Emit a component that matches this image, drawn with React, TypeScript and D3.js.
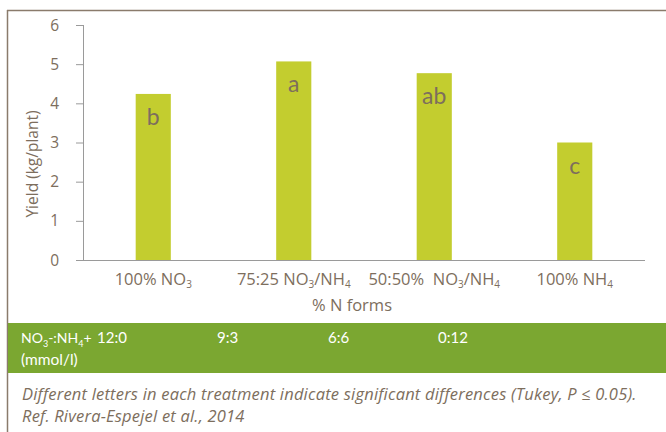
import React from "react";
import * as d3 from "d3";

const categories = ["100% NO3", "75:25 NO3/NH4", "50:50% NO3/NH4", "100% NH4"];
const yields = [4.24, 5.07, 4.77, 3.0];
const letters = ["b", "a", "ab", "c"];
const ratios = ["12:0", "9:3", "6:6", "0:12"];
const yTicks = [0, 1, 2, 3, 4, 5, 6];

const W = 666;
const H = 432;
const TXT = "#7d6e5d";
const BAR = "#c3cd2f";
const BAND = "#7ba731";
const FONT = "'Open Sans', Lato, sans-serif";
const FONT2 = "Lato, 'Open Sans', sans-serif";

function TickLabel({ i }: { i: number }) {
  const s = (t: string) => (
    <tspan dy={3} fontSize={10}>
      {t}
    </tspan>
  );
  if (i === 0) return <>100% NO{s("3")}</>;
  if (i === 1)
    return (
      <>
        75:25 NO{s("3")}
        <tspan dy={-3}>/NH</tspan>
        {s("4")}
      </>
    );
  if (i === 2)
    return (
      <>
        50:50%{"\u00a0\u00a0"}NO{s("3")}
        <tspan dy={-3}>/NH</tspan>
        {s("4")}
      </>
    );
  return <>100% NH{s("4")}</>;
}

export default function App() {
  const x = d3
    .scaleBand<string>()
    .domain(categories)
    .range([83, 645])
    .paddingInner(0.75)
    .paddingOuter(0.375);
  const y = d3.scaleLinear().domain([0, 6]).range([260, 25]);
  const ratioX = [97, 217, 328, 438];

  return (
    <svg
      width={W}
      height={H}
      style={{ position: "absolute", left: 0, top: 0, fontFamily: FONT }}
    >
      <rect x={0} y={0} width={W} height={H} fill="#fff" />
      {/* frame */}
      <line x1={7} x2={W} y1={10.5} y2={10.5} stroke="#8a7b6c" strokeWidth={1.5} />
      <line x1={7.5} x2={7.5} y1={10} y2={H} stroke="#8a7b6c" strokeWidth={1.5} />

      {/* bars */}
      {categories.map((c, i) => (
        <g key={c}>
          <rect
            x={x(c)!}
            y={y(yields[i])}
            width={x.bandwidth()}
            height={y(0) - y(yields[i])}
            fill={BAR}
          />
          <text
            x={x(c)! + x.bandwidth() / 2}
            y={y(yields[i]) + 31}
            textAnchor="middle"
            fontSize={23}
            fill={TXT}
            fontFamily={FONT2}
          >
            {letters[i]}
          </text>
        </g>
      ))}

      {/* y axis */}
      <line x1={83.5} x2={83.5} y1={y(6)} y2={y(0)} stroke="#9a9a9a" strokeWidth={1} />
      {yTicks.map((t) => (
        <g key={t}>
          <line x1={76} x2={83.5} y1={y(t) + 0.5} y2={y(t) + 0.5} stroke="#9a9a9a" />
          <text x={59} y={y(t) + 5.5} textAnchor="end" fontSize={15.5} fill={TXT}>
            {t}
          </text>
        </g>
      ))}
      <text
        transform={`translate(38,164) rotate(-90)`}
        textAnchor="middle"
        fontSize={15.5}
        fill={TXT}
      >
        Yield (kg/plant)
      </text>

      {/* x axis */}
      <line x1={83} x2={645} y1={260.5} y2={260.5} stroke="#9a9a9a" strokeWidth={1} />
      {categories.map((c, i) => (
        <text
          key={c}
          x={x(c)! + x.bandwidth() / 2}
          y={285}
          textAnchor="middle"
          fontSize={16.5}
          fill={TXT}
        >
          <TickLabel i={i} />
        </text>
      ))}
      <text x={352} y={311} textAnchor="middle" fontSize={16.5} fill={TXT}>
        % N forms
      </text>

      {/* green band */}
      <rect x={8} y={323} width={W - 8} height={50} fill={BAND} />
      <g fontFamily={FONT2}>
        <text x={21} y={343} fontSize={14} fill="#fff">
          NO<tspan dy={4} fontSize={9}>3</tspan>
          <tspan dy={-4}>-:NH</tspan>
          <tspan dy={4} fontSize={9}>4</tspan>
          <tspan dy={-4}>+</tspan>
        </text>
        <text x={21} y={365} fontSize={15.5} fill="#fff">
          (mmol/l)
        </text>
        {ratios.map((r, i) => (
          <text key={r} x={ratioX[i]} y={343} fontSize={15} fill="#fff">
            {r}
          </text>
        ))}
      </g>

      {/* caption */}
      <g fontSize={16.5} fontStyle="italic" fill={TXT} letterSpacing={0.2}>
        <text x={22} y={400}>
          Different letters in each treatment indicate significant differences (Tukey, P ≤ 0.05).
        </text>
        <text x={22} y={422}>
          Ref. Rivera-Espejel et al., 2014
        </text>
      </g>
    </svg>
  );
}
